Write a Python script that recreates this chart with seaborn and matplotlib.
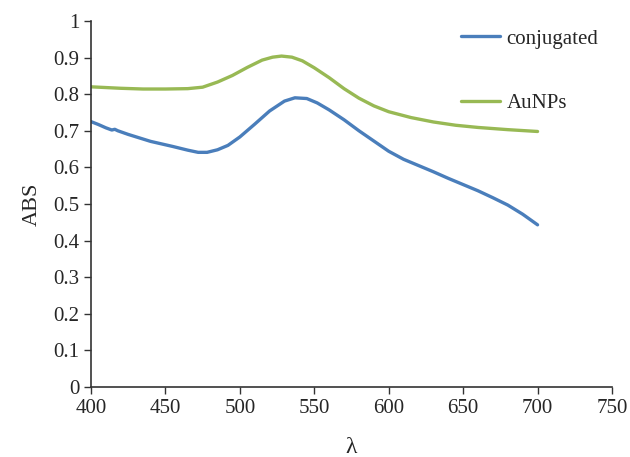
import matplotlib
matplotlib.use("Agg")
import matplotlib.pyplot as plt
import seaborn as sns
import pandas as pd

# 光谱数据
wl_conj = [400, 405, 410, 414, 416, 418, 425, 440, 455, 465, 472, 478, 485, 492, 500,
           510, 520, 530, 537, 545, 552, 560, 570, 580, 590, 600, 610, 620, 630,
           640, 650, 660, 670, 680, 690, 700]
abs_conj = [0.725, 0.717, 0.708, 0.702, 0.704, 0.700, 0.690, 0.671, 0.657, 0.647, 0.641, 0.641,
            0.648, 0.660, 0.683, 0.718, 0.754, 0.781, 0.790, 0.788, 0.776, 0.757, 0.730,
            0.700, 0.672, 0.644, 0.622, 0.605, 0.588, 0.570, 0.553, 0.536, 0.517, 0.497,
            0.472, 0.443]

wl_au = [400, 410, 420, 435, 450, 465, 475, 485, 495, 505, 515, 522, 528, 535, 542,
         550, 560, 570, 580, 590, 600, 615, 630, 645, 660, 680, 700]
abs_au = [0.820, 0.818, 0.816, 0.814, 0.814, 0.815, 0.819, 0.833, 0.851, 0.873, 0.893, 0.901,
          0.904, 0.901, 0.891, 0.872, 0.845, 0.815, 0.789, 0.768, 0.752, 0.736, 0.724,
          0.715, 0.709, 0.703, 0.698]

df = pd.concat([
    pd.DataFrame({"wl": wl_conj, "abs": abs_conj, "sample": "conjugated"}),
    pd.DataFrame({"wl": wl_au, "abs": abs_au, "sample": "AuNPs"}),
])

sns.set_style("ticks")
plt.rcParams["font.family"] = ["Liberation Serif", "DejaVu Serif"]

fig = plt.figure(figsize=(6.3, 4.57), dpi=100)
ax = fig.add_axes([0.1444, 0.1532, 0.827, 0.801])

sns.lineplot(data=df, x="wl", y="abs", hue="sample",
             palette={"conjugated": "#4A7EBB", "AuNPs": "#98B954"},
             linewidth=2.4, ax=ax, sort=True, estimator=None)

ax.set_xlim(400, 750)
ax.set_ylim(0, 1)
ax.set_xticks(range(400, 751, 50))
ax.set_yticks([i / 10 for i in range(11)])
ax.set_yticklabels(["0"] + [f"{i/10:.1f}" for i in range(1, 10)] + ["1"])
ax.tick_params(labelsize=15, length=5, width=1, color="#333333", direction="out")
for s in ["top", "right"]:
    ax.spines[s].set_visible(False)
for s in ["left", "bottom"]:
    ax.spines[s].set_color("#333333")
    ax.spines[s].set_linewidth(1.2)

ax.set_xlabel("λ", fontsize=17, labelpad=14)
ax.set_ylabel("ABS", fontsize=16, labelpad=8)

ax.legend(title=None, frameon=False, loc="upper left", bbox_to_anchor=(0.69, 1.006),
          fontsize=15, borderpad=0, labelspacing=2.15, handlelength=1.9,
          handletextpad=0.3)

fig.savefig("out.png", dpi=100)
